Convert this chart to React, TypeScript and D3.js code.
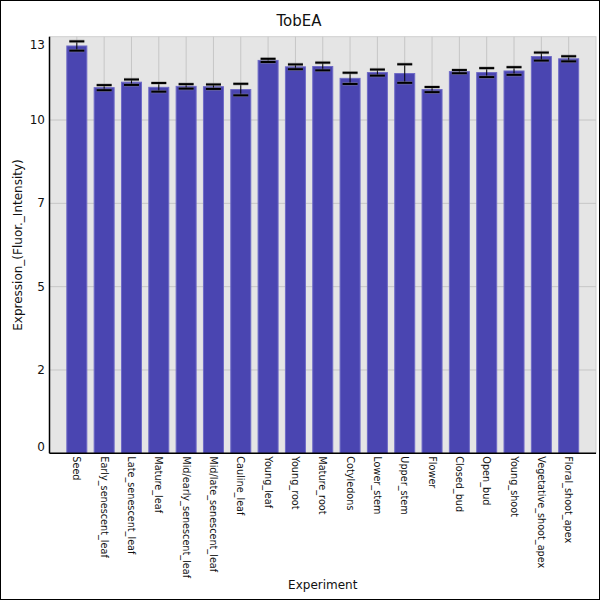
import React from "react";
import * as d3 from "d3";

const categories = [
  "Seed",
  "Early_senescent_leaf",
  "Late_senescent_leaf",
  "Mature_leaf",
  "Mid/early_senescent_leaf",
  "Mid/late_senescent_leaf",
  "Cauline_leaf",
  "Young_leaf",
  "Young_root",
  "Mature_root",
  "Cotyledons",
  "Lower_stem",
  "Upper_stem",
  "Flower",
  "Closed_bud",
  "Open_bud",
  "Young_shoot",
  "Vegetative_shoot_apex",
  "Floral_shoot_apex",
];

const means = [
  12.71, 11.41, 11.58, 11.42, 11.45, 11.44, 11.35, 12.26, 12.06, 12.07,
  11.7, 11.88, 11.85, 11.35, 11.91, 11.88, 11.93, 12.38, 12.31,
];

const errors = [
  0.145, 0.08, 0.085, 0.135, 0.07, 0.07, 0.18, 0.05, 0.075, 0.12, 0.175,
  0.095, 0.29, 0.08, 0.05, 0.14, 0.12, 0.125, 0.08,
];

const yTickValues = [0, 2.6, 5.2, 7.8, 10.4, 13];
const yTickLabels = ["0", "2", "5", "7", "10", "13"];

const title = "TobEA";
const xTitle = "Experiment";
const yTitle = "Expression_(Fluor._Intensity)";

const W = 600;
const H = 600;
const L = 49.5;
const R = 596;
const T = 36.7;
const B = 453.3;
const font = "DejaVu Sans, sans-serif";

export default function App() {
  const x = d3.scalePoint<string>().domain(categories).range([L, R]).padding(1);
  const y = d3.scaleLinear().domain([0, 13]).range([B, T]);
  const barW = 20;
  const capW = 15;

  return (
    <svg
      width={W}
      height={H}
      viewBox={`0 0 ${W} ${H}`}
      style={{ position: "absolute", left: 0, top: 0, background: "#fff" }}
    >
      <rect x={0.5} y={0.5} width={W - 1} height={H - 1} fill="#fff" stroke="#000" />
      <text x={299} y={26} textAnchor="middle" fontFamily={font} fontSize={15} fill="#111">
        {title}
      </text>
      <rect x={L} y={T} width={R - L} height={B - T} fill="#e5e5e5" stroke="#cfcfcf" strokeWidth={1} />
      {yTickValues.map((v, i) =>
        i === 0 || i === yTickValues.length - 1 ? null : (
          <line key={"hg" + i} x1={L} x2={R} y1={y(v)} y2={y(v)} stroke="#c6c6c6" strokeWidth={1} />
        )
      )}
      {categories.map((c) => (
        <line key={"vg" + c} x1={x(c)} x2={x(c)} y1={T} y2={B} stroke="#c6c6c6" strokeWidth={1} />
      ))}
      {categories.map((c, i) => (
        <rect
          key={"b" + c}
          x={(x(c) as number) - barW / 2}
          y={y(means[i])}
          width={barW}
          height={B - y(means[i])}
          fill="#4a45b1"
          stroke="#6e6ac6"
          strokeWidth={1}
        />
      ))}
      {categories.map((c, i) => {
        const cx = x(c) as number;
        const y1 = y(means[i] + errors[i]);
        const y2 = y(means[i] - errors[i]);
        return (
          <g key={"e" + c}>
            <line x1={cx} x2={cx} y1={y1} y2={y2} stroke="#000" strokeWidth={1} />
            <line x1={cx - capW / 2} x2={cx + capW / 2} y1={y1} y2={y1} stroke="#888" strokeWidth={3.5} strokeOpacity={0.5} />
            <line x1={cx - capW / 2} x2={cx + capW / 2} y1={y2} y2={y2} stroke="#888" strokeWidth={3.5} strokeOpacity={0.5} />
            <line x1={cx - capW / 2} x2={cx + capW / 2} y1={y1} y2={y1} stroke="#000" strokeWidth={2} />
            <line x1={cx - capW / 2} x2={cx + capW / 2} y1={y2} y2={y2} stroke="#000" strokeWidth={2} />
          </g>
        );
      })}
      <line x1={L} x2={L} y1={T} y2={B} stroke="#000" strokeWidth={1.5} />
      <line x1={L} x2={R} y1={B} y2={B} stroke="#000" strokeWidth={1.5} />
      {yTickValues.map((v, i) => {
        let ty = y(v);
        if (i === 0) ty -= 6;
        if (i === yTickValues.length - 1) ty += 8;
        return (
          <text
            key={"yt" + i}
            x={45}
            y={ty}
            textAnchor="end"
            dominantBaseline="central"
            fontFamily={font}
            fontSize={12}
            fill="#111"
          >
            {yTickLabels[i]}
          </text>
        );
      })}
      {categories.map((c) => (
        <text
          key={"xt" + c}
          transform={`translate(${x(c)},${B + 3}) rotate(90)`}
          textAnchor="start"
          dominantBaseline="central"
          fontFamily={font}
          fontSize={9.7}
          fill="#111"
        >
          {c}
        </text>
      ))}
      <text x={(L + R) / 2} y={589} textAnchor="middle" fontFamily={font} fontSize={12} fill="#111">
        {xTitle}
      </text>
      <text
        transform={`translate(22,${(T + B) / 2}) rotate(-90)`}
        textAnchor="middle"
        fontFamily={font}
        fontSize={12}
        fill="#111"
      >
        {yTitle}
      </text>
    </svg>
  );
}
